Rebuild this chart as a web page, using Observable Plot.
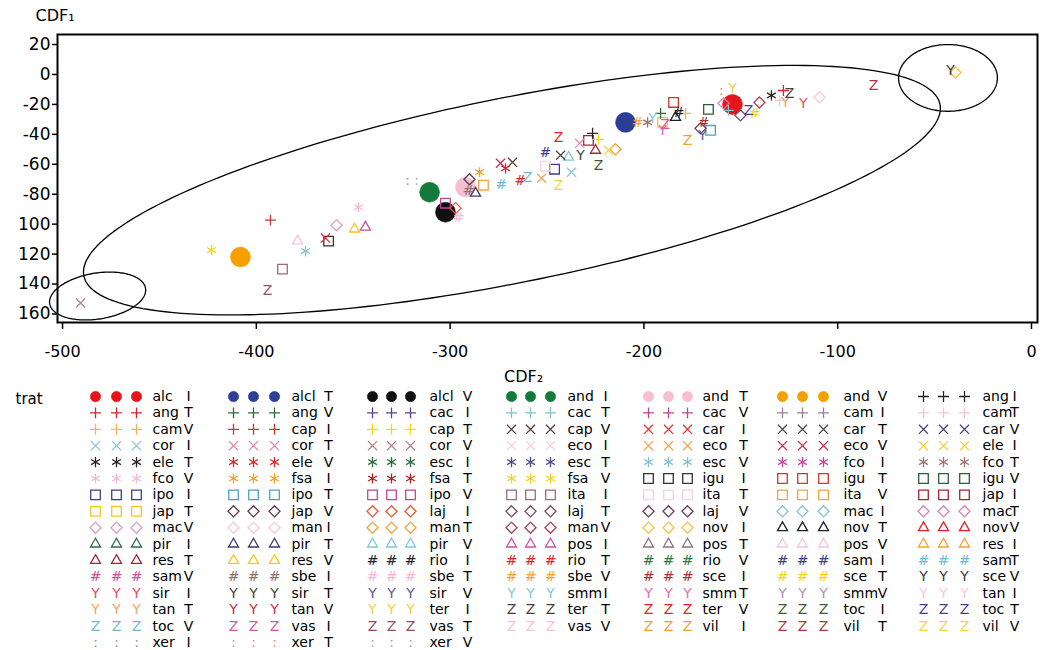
<!DOCTYPE html>
<html>
<head>
<meta charset="utf-8">
<script src="https://cdn.jsdelivr.net/npm/d3@7"></script>
<script src="https://cdn.jsdelivr.net/npm/@observablehq/plot@0.6"></script>
<style>
  html, body { margin: 0; padding: 0; background: #fff; }
  svg { display: block; }
</style>
</head>
<body>
<script>
// ---- categories (trat) ----
const tratName = [
  "alc","ang","cam","cor","ele","fco","ipo","jap","mac","pir","res","sam","sir","tan","toc","xer",
  "alcl","ang","cap","cor","ele","fsa","ipo","jap","man","pir","res","sbe","sir","tan","vas","xer",
  "alcl","cac","cap","cor","esc","fsa","ipo","laj","man","pir","rio","sbe","sir","ter","vas","xer",
  "and","cac","cap","eco","esc","fsa","ita","laj","man","pos","rio","sbe","smm","ter","vas",
  "and","cac","car","eco","esc","igu","ita","laj","nov","pos","rio","sce","smm","ter","vil",
  "and","cam","car","eco","fco","igu","ita","mac","nov","pos","sam","sce","smm","toc","vil",
  "ang","cam","car","ele","fco","igu","jap","mac","nov","res","sam","sce","tan","toc","vil"
];
const tratLevel = [
  "I","T","V","I","T","V","I","T","V","I","T","V","I","T","V","I",
  "T","V","I","T","V","I","T","V","I","T","V","I","T","V","I","T",
  "V","I","T","V","I","T","V","I","T","V","I","T","V","I","T","V",
  "I","T","V","I","T","V","I","T","V","I","T","V","I","T","V",
  "T","V","I","T","V","I","T","V","I","T","V","I","T","V","I",
  "V","I","T","V","I","T","V","I","T","V","I","T","V","I","T",
  "I","T","V","I","T","V","I","T","V","I","T","V","I","T","V"
];
const legendColumnSizes = [16,16,16,15,15,15,15];

// style tables for the scales
const tratColors = [
  "#e8141c","#d9232e","#f5b35a","#8cc8d8","#2a2020","#f5b8d0","#3d3d8f","#f2c820","#d9a0c4","#2f6b4a","#a3283f","#c8509e","#e8505a","#f0a860","#70b8d0","#9a9a9a",
  "#2c3e96","#2e6b3c","#c43a30","#e48aaa","#d92a2a","#f5a020","#4aa5ba","#5e3c50","#f7c8da","#3c3a6e","#f5c820","#8a7272","#4a4a3c","#c8304a","#d25aa2","#f08a7a",
  "#111111","#5a409a","#f5d80a","#b08494","#2e6b3c","#a82424","#c2429c","#e85a3a","#f2a440","#80c6da","#222222","#f7b8d0","#6a5a8c","#f5d040","#8a5262","#a8a8a8",
  "#137a3a","#80c2d2","#5a3c3c","#f8d0dc","#4a4a8c","#f5d412","#9a6c7c","#7a4c5c","#a84254","#c452a4","#e22424","#f2a232","#84cada","#4a3c3c","#f8c2d2",
  "#f7bfd0","#c24292","#e23434","#f2a454","#82c2d4","#333333","#f8d2de","#6a3c5c","#f5c444","#8c7284","#2e7a3c","#a43434","#e072b2","#e22424","#f2a224",
  "#f5a000","#9c7c9c","#4a4a4a","#c43454","#c442a2","#d43434","#f2a444","#84c2d4","#222222","#f8c2da","#3c3c8c","#f5d412","#b492b4","#3c5c3c","#b43444",
  "#222222","#f8c2d2","#4c3c7c","#f5d044","#9c7474","#2e5c3c","#a42434","#d484b4","#e22424","#f2a234","#6cbad2","#3c3c3c","#f8cada","#4c3c8c","#f5d444"
];
const tratShape = [
  "c","p","p","x","a","a","s","s","d","t","t","h","y","y","z","o",
  "c","p","p","x","a","a","s","d","d","t","t","h","y","y","z","o",
  "c","p","p","x","a","a","s","d","d","t","h","h","y","y","z","o",
  "c","p","x","x","a","a","s","d","d","t","h","h","y","z","z",
  "c","p","x","x","a","s","s","d","d","t","h","h","y","z","z",
  "c","p","x","x","a","s","s","d","t","t","h","h","y","z","z",
  "p","p","x","x","a","s","s","d","t","t","h","y","y","z","z"
];

// ---- observed points (CDF2 on x, CDF1 on y) ----
const ptTrat = [
  "cor V","fsa V","and V","cap I","ita I","vas T","pos V","esc V","igu I","car I",
  "mac V","res V","pos I","fco V","xer I","xer V","and I","alcl V","ipo V","sbe T",
  "laj I","and T","jap V","sbe I","pir T","fsa I","ita V","sam T","ele V","eco V",
  "cap V","rio T","toc V","eco T","vil V","ipo I","ita T","sam I","car T","pir V",
  "cor I","ter V","sir T","cor T","jap I","res T","ang I","cap T","toc I","man T",
  "ele I","alcl T","sbe V","fco T","smm I","ang V","jap T","vas I","smm T","nov T",
  "igu T","rio I","cam V","igu V","ipo T","sce I","laj V","sir V","vil I","ter I",
  "xer T","alc I","mac T","cac T","laj T","man V","toc T","sce T","ele T","ang T",
  "ter T","cam T","tan T","sir I","man I","vil T","sce V","nov I"
];
const ptX = [
  -490.7,-423.1,-408.2,-392.7,-386.5,-394.2,-378.7,-374.6,-362.7,-364.3,
  -358.6,-349.3,-343.7,-347.3,-322.0,-317.3,-310.6,-302.4,-302.4,-295.7,
  -297.2,-292.1,-290.0,-290.5,-286.9,-284.8,-282.8,-273.5,-271.4,-274.0,
  -267.8,-263.7,-260.1,-252.8,-244.1,-246.1,-250.8,-250.8,-243.0,-238.9,
  -237.4,-244.1,-232.7,-233.2,-228.6,-225.0,-226.5,-223.4,-223.4,-214.7,
  -218.3,-209.5,-203.3,-198.1,-195.6,-191.4,-190.4,-189.0,-190.4,-183.7,
  -184.7,-182.1,-178.5,-166.7,-165.6,-169.2,-170.8,-169.8,-177.5,-154.3,
  -160.0,-154.3,-158.9,-156.4,-150.2,-140.4,-146.0,-142.9,-134.2,-128.0,
  -124.9,-130.0,-126.9,-117.7,-109.4,-81.5,-41.8,-39.2
];
const ptY = [
  -152.7,-117.3,-122.0,-97.3,-130.0,-144.0,-111.3,-118.0,-111.3,-109.3,
  -100.7,-103.3,-102.0,-88.7,-70.7,-70.7,-78.7,-92.0,-86.0,-95.3,
  -89.3,-75.3,-70.0,-77.3,-79.3,-65.3,-74.0,-73.3,-62.7,-59.3,
  -58.7,-70.7,-68.7,-69.3,-74.0,-63.3,-61.3,-52.0,-54.0,-55.3,
  -65.3,-42.0,-54.0,-46.0,-44.0,-50.7,-39.3,-43.3,-60.7,-50.0,
  -50.7,-32.0,-32.0,-32.0,-29.3,-26.0,-32.0,-33.5,-37.3,-28.7,
  -18.7,-25.3,-26.0,-23.3,-37.3,-32.0,-36.0,-40.7,-44.0,-9.3,
  -10.7,-20.0,-19.3,-24.0,-27.3,-18.7,-24.0,-26.0,-14.0,-10.7,
  -12.7,-17.3,-18.7,-19.3,-15.3,-7.3,2.7,1.3
];

// ---- ellipses (centre, semi-axis along x, y-offsets of conjugate vectors) in data units ----
const ellCx = [-268.1, -481.9, -43.1];
const ellCy = [-77.3, -148.0, -2.3];
const ellA  = [221.1, 24.8, 25.5];
const ellB  = [54.7, 4.0, 0.0];
const ellC  = [62.9, 15.5, 22.3];

// axis ticks
const xTicks = [-500,-400,-300,-200,-100,0];
const yTicks = [20,0,-20,-40,-60,-80,-100,-120,-140,-160];
const yTickLabels = ["20","0","-20","-40","-60","-80","100","120","140","160"];

// ---- build tables ----
const tratKey = tratName.map((n, i) => n + " " + tratLevel[i]);
const shapeOf = new Map(tratKey.map((k, i) => [k, tratShape[i]]));

const points = ptTrat.map((k, i) => ({key: k, shape: shapeOf.get(k), x: ptX[i], y: ptY[i]}));

const ellipsePts = [];
ellCx.forEach((cx, e) => {
  d3.range(0, 201).forEach(j => {
    const t = j / 200 * 2 * Math.PI;
    ellipsePts.push({e, x: cx + ellA[e] * Math.cos(t), y: ellCy[e] + ellB[e] * Math.cos(t) + ellC[e] * Math.sin(t)});
  });
});

const dotSymbol = {c: "circle", p: "plus", x: "times", a: "asterisk", s: "square", d: "diamond2", t: "triangle2"};
const dotR = {p: 3.6, x: 4.2, a: 4.8, s: 5.4, d: 5.0, t: 4.8};
const textGlyph = {h: "#", y: "Y", z: "Z", o: ":"};

function symbolMarks(rows, circleR) {
  const marks = [];
  marks.push(Plot.dot(rows.filter(d => d.shape === "c"), {x: "x", y: "y", r: circleR, symbol: "circle", fill: "key", stroke: "key", strokeWidth: 0.5}));
  for (const s of ["s", "d", "t", "p", "x", "a"]) {
    marks.push(Plot.dot(rows.filter(d => d.shape === s), {x: "x", y: "y", r: dotR[s], symbol: dotSymbol[s], fill: "none", stroke: "key", strokeWidth: 1.3}));
  }
  for (const s of ["h", "y", "z", "o"]) {
    marks.push(Plot.text(rows.filter(d => d.shape === s), {x: "x", y: "y", text: () => textGlyph[s], fill: "key", fontSize: 14, lineAnchor: "middle", fontFamily: "DejaVu Sans"}));
  }
  return marks;
}

const colorScale = {type: "ordinal", domain: tratKey, range: tratColors, legend: false};

// ---- main chart ----
const chart = Plot.plot({
  width: 1045,
  height: 388,
  marginLeft: 57,
  marginRight: 8,
  marginTop: 34,
  marginBottom: 66,
  x: {domain: [-502.6, 3.1]},
  y: {domain: [-165.7, 26.7]},
  color: colorScale,
  style: {fontFamily: "DejaVu Sans", fontSize: "16px", background: "white", color: "black"},
  marks: [
    Plot.axisX({ticks: xTicks, tickFormat: d => String(d), tickSize: 7, tickPadding: 16, fontSize: 16, strokeWidth: 1.5, label: null}),
    Plot.axisY({ticks: yTicks, tickFormat: d => yTickLabels[yTicks.indexOf(d)], tickSize: 5, tickPadding: 2, fontSize: 17, strokeWidth: 1.5, label: null}),
    ...symbolMarks(points, 10),
    Plot.line(ellipsePts, {x: "x", y: "y", z: "e", stroke: "black", strokeWidth: 1.3, curve: "linear"}),
    Plot.frame({stroke: "black", strokeWidth: 2}),
    Plot.text(["CDF₁"], {text: d => d, frameAnchor: "top-left", dx: -22, dy: -19, textAnchor: "start", lineAnchor: "middle", fontSize: 16}),
    Plot.text(["CDF₂"], {text: d => d, frameAnchor: "bottom", dx: -24, dy: 54, lineAnchor: "middle", fontSize: 16})
  ]
});
document.body.appendChild(chart);

// ---- legend (below the chart) ----
const colSymX = [[95,116,136],[233,253,274],[372,391,410],[511,530,550],[648,668,687],[782,802,823],[923,943,964]];
const colLabelX = [152,291,429,567,702,843,982];
const colLetterX = [188,328,467,605,743,882,1014];
const rowY0 = 8, rowStep = 16.4;

const legendSym = [], legendLab = [];
let idx = 0;
legendColumnSizes.forEach((n, c) => {
  for (let r = 0; r < n; r++, idx++) {
    const key = tratKey[idx];
    const y = rowY0 + r * rowStep;
    colSymX[c].forEach(x => legendSym.push({key, shape: tratShape[idx], x, y}));
    legendLab.push({name: tratName[idx], level: tratLevel[idx], x: colLabelX[c], xl: colLetterX[c], y});
  }
});

const legend = Plot.plot({
  width: 1045,
  height: 262,
  margin: 0,
  x: {type: "identity", axis: null},
  y: {type: "identity", axis: null},
  color: colorScale,
  style: {fontFamily: "DejaVu Sans", fontSize: "14px", background: "white", color: "black"},
  marks: [
    Plot.text(["trat"], {text: d => d, x: () => 15, y: () => 11, textAnchor: "start", lineAnchor: "middle", fontSize: 15}),
    ...symbolMarks(legendSym, 5.2),
    Plot.text(legendLab, {x: "x", y: "y", text: "name", textAnchor: "start", lineAnchor: "middle", fill: "black", fontSize: 14}),
    Plot.text(legendLab, {x: "xl", y: "y", text: "level", textAnchor: "middle", lineAnchor: "middle", fill: "black", fontSize: 14})
  ]
});
document.body.appendChild(legend);
</script>
</body>
</html>
